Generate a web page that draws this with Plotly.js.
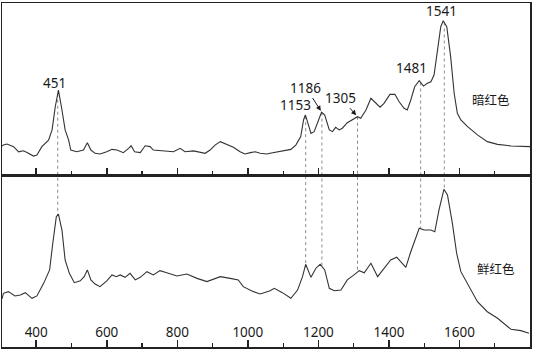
<!DOCTYPE html>
<html>
<head>
<meta charset="utf-8">
<script src="https://cdn.plot.ly/plotly-3.0.1.min.js"></script>
<style>html,body{margin:0;padding:0;background:#fff;}#chart{width:534px;height:354px;}</style>
</head>
<body>
<div id="chart"></div>
<script>
// 暗红色 (top spectrum)
const darkX = [303,307,317,336,350,364,378,392,402,416,435,445,454,463,473,482,492,498,515,534,545,555,567,581,600,615,629,647,662,669,679,695,709,723,732,751,770,789,808,822,846,865,879,893,907,922,941,959,978,992,1007,1021,1035,1054,1063,1084,1122,1136,1150,1158,1163,1169,1179,1188,1197,1209,1218,1231,1240,1249,1259,1268,1282,1297,1311,1320,1335,1349,1363,1375,1386,1403,1417,1429,1443,1452,1462,1473,1486,1498,1509,1519,1528,1537,1547,1554,1564,1575,1585,1594,1604,1623,1651,1679,1708,1746,1774,1800];
const darkY = [16.8,17.4,18.0,16.5,13.5,14.1,12.6,11.0,11.6,16.5,20.3,26.2,39.7,49.4,37.8,26.2,20.3,14.5,13.5,14.5,18.8,14.5,12.6,12.2,13.5,14.9,14.5,13.0,15.5,17.0,13.5,13.0,17.0,16.5,14.5,14.1,13.5,13.5,15.5,13.5,14.0,13.0,12.6,14.5,17.4,19.4,17.8,16.1,13.5,12.2,13.0,13.5,12.6,12.2,12.6,13.5,14.9,17.4,22.3,32.0,34.9,31.0,24.2,25.2,30.1,36.5,34.9,26.2,25.2,27.7,26.2,27.2,30.4,32.0,33.9,33.0,37.8,44.6,41.7,39.4,41.7,46.9,46.9,42.6,38.8,37.8,43.6,51.3,54.8,51.7,53.3,54.2,58.1,70.8,86.2,89.7,86.2,68.8,47.5,35.9,32.0,28.1,23.3,19.4,17.8,16.9,16.5,16.5];
// 鲜红色 (bottom spectrum)
const brightX = [303,307,321,340,355,369,388,402,421,438,447,457,463,473,482,494,508,525,536,545,555,567,581,600,615,627,638,652,666,681,695,714,732,751,770,799,827,856,884,922,950,973,987,1016,1035,1063,1075,1098,1122,1141,1155,1164,1179,1193,1205,1218,1231,1245,1264,1282,1301,1316,1330,1349,1368,1386,1405,1422,1438,1448,1462,1476,1486,1500,1519,1530,1542,1556,1566,1580,1592,1604,1623,1651,1679,1708,1746,1774,1797];
const brightY = [28.0,31.2,32.2,29.7,30.2,31.6,28.3,29.7,37.0,44.8,60.3,75.8,77.3,68.0,50.6,42.8,37.4,38.5,40.9,44.8,39.0,36.6,35.1,38.4,41.9,40.9,41.9,40.5,42.8,39.0,40.5,43.8,41.9,44.4,43.2,41.3,42.4,39.9,38.0,40.9,39.9,39.0,35.1,32.2,30.8,32.7,34.1,31.6,28.3,33.1,40.9,48.1,40.5,45.8,48.1,44.8,34.1,32.7,33.1,39.0,41.9,44.4,43.2,48.7,40.9,45.8,50.6,52.2,48.7,46.3,55.4,64.1,69.0,68.0,68.0,67.0,79.7,91.7,88.4,71.9,54.5,43.8,37.0,26.3,20.5,16.7,10.3,9.5,8.0];
// peak markers
const peakLabels = ["451","1153","1186","1305","1481","1541"];
const peakPos = [461,1164,1210,1311,1490,1557];
const sampleNames = ["暗红色","鲜红色"];
const tickVals = [400,600,800,1000,1200,1400,1600];

function interp(xs, ys, x){
  for(let i=0;i<xs.length-1;i++){
    if(x>=xs[i] && x<=xs[i+1]){
      const t=(x-xs[i])/(xs[i+1]-xs[i]);
      return ys[i]+t*(ys[i+1]-ys[i]);
    }
  }
  return ys[ys.length-1];
}

const FONT = "Noto Sans, Noto Sans CJK SC, sans-serif";
const lineStyle = {color:'#333', width:1.1};
const traces = [
  {x:darkX, y:darkY, xaxis:'x2', yaxis:'y2', mode:'lines', line:lineStyle, hoverinfo:'skip'},
  {x:brightX, y:brightY, xaxis:'x', yaxis:'y', mode:'lines', line:lineStyle, hoverinfo:'skip'}
];

const shapes = peakPos.map(p => ({
  type:'line', xref:'x', yref:'paper', x0:p, x1:p,
  y0: 0.5 + interp(darkX, darkY, p)/200,
  y1: interp(brightX, brightY, p)/200,
  line:{color:'#8a8a8a', width:1, dash:'dot'}, layer:'below'
}));

// label placement offsets (pixels) for each peak label
const labelOpts = [
  {arrow:false, xshift:-3, yshift:0},
  {arrow:false, xshift:-10, yshift:0},
  {arrow:true, ax:-16, ay:-25},
  {arrow:true, ax:-17, ay:-19},
  {arrow:false, xshift:-9, yshift:2},
  {arrow:false, xshift:-3, yshift:0}
];
const annotations = peakLabels.map((t,i) => {
  const p = peakPos[i];
  let yv = Math.max(interp(darkX, darkY, p-4), interp(darkX, darkY, p), interp(darkX, darkY, p+4));
  const o = labelOpts[i];
  const a = {text:t, x:p, y:yv, xref:'x2', yref:'y2', font:{family:FONT, size:13.5, color:'#1a1a1a'}};
  if(o.arrow){
    Object.assign(a, {showarrow:true, ax:o.ax, ay:o.ay, arrowhead:2, arrowsize:1, arrowwidth:1, arrowcolor:'#1a1a1a', standoff:2});
  } else {
    Object.assign(a, {showarrow:false, xshift:o.xshift, yshift:o.yshift, yanchor:'bottom'});
  }
  return a;
});
annotations.push({text:sampleNames[0], xref:'paper', yref:'paper', x:0.926, y:0.718, xanchor:'center', yanchor:'middle', showarrow:false, font:{family:FONT, size:12.5, color:'#1a1a1a'}});
annotations.push({text:sampleNames[1], xref:'paper', yref:'paper', x:0.935, y:0.224, xanchor:'center', yanchor:'middle', showarrow:false, font:{family:FONT, size:12.5, color:'#1a1a1a'}});

const frame = {showline:true, linecolor:'#222', linewidth:1.5, mirror:true, zeroline:false, showgrid:false};
const layout = {
  width:534, height:354,
  margin:{l:2, r:4, t:3, b:7},
  paper_bgcolor:'#fff', plot_bgcolor:'#fff',
  showlegend:false,
  xaxis: Object.assign({}, frame, {
    range:[303,1800], anchor:'y', tickmode:'array', tickvals:tickVals,
    ticks:'inside', ticklen:7, tickwidth:1.5, tickcolor:'#222',
    ticklabelposition:'inside', ticklabelstandoff:0,
    tickfont:{family:FONT, size:13.5, color:'#1a1a1a'},
    minor:{dtick:100, tick0:300, ticks:'inside', ticklen:4, tickwidth:1.2, tickcolor:'#222'}
  }),
  xaxis2: Object.assign({}, frame, {
    range:[303,1800], anchor:'y2', matches:'x', tickmode:'array', tickvals:tickVals,
    ticks:'inside', ticklen:7, tickwidth:1.5, tickcolor:'#222', showticklabels:false,
    minor:{dtick:100, tick0:300, ticks:'inside', ticklen:4, tickwidth:1.2, tickcolor:'#222'}
  }),
  yaxis: Object.assign({}, frame, {domain:[0,0.5], range:[0,100], showticklabels:false, ticks:'', anchor:'x'}),
  yaxis2: Object.assign({}, frame, {domain:[0.5,1], range:[0,100], showticklabels:false, ticks:'', anchor:'x2'}),
  shapes: shapes,
  annotations: annotations
};
Plotly.newPlot('chart', traces, layout, {staticPlot:true});
</script>
</body>
</html>
